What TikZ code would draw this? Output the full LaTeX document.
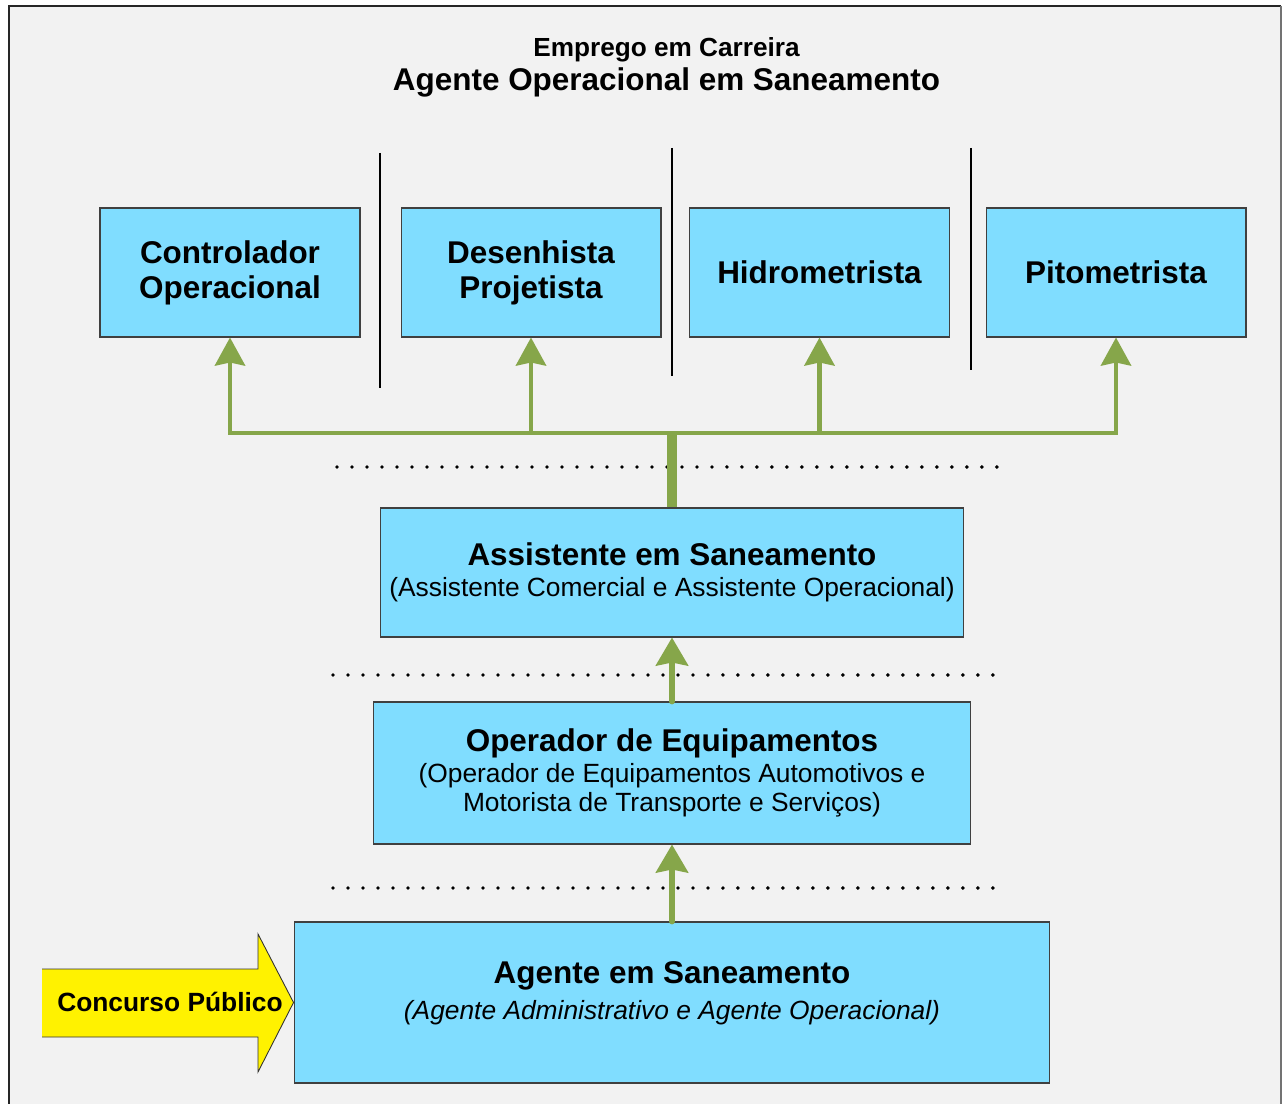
\documentclass[tikz,border=0pt]{standalone}
\usepackage{fontspec}
\setmainfont{Liberation Sans}
\usetikzlibrary{arrows.meta}
\definecolor{caixa}{HTML}{80DDFF}
\definecolor{seta}{HTML}{86A64A}
\definecolor{fundo}{HTML}{F2F2F2}

\begin{document}
\begin{tikzpicture}[
      x=0.02cm,
      y=-0.02cm,
      cargo/.style={
        draw=black!75,
        fill=caixa,
        line width=0.6pt,
        align=center,
        inner sep=0pt,
        font=\fontsize{15}{16.5}\selectfont
      },
      topo/.style={
        cargo,
        minimum width=5.2cm,
        minimum height=2.58cm,
        font=\fontsize{17.9}{20}\selectfont\bfseries
      },
      ramo/.style={
        seta,
        line width=2.7pt,
        -{Stealth[length=0.56cm,width=0.6cm,inset=0.06cm]}
      },
      tronco/.style={
        seta,
        line width=5.3pt
      },
      subida/.style={
        seta,
        line width=3.3pt,
        line cap=round,
        -{Stealth[length=0.56cm,width=0.64cm,inset=0.06cm]}
      },
      pontos/.style={
        line width=2.2pt,
        line cap=round,
        dash pattern=on 0pt off 0.3cm
      },
      divisa/.style={
        line width=0.8pt
      }
    ]
      \useasboundingbox (0,0) rectangle (1282,1104);
      \fill[fundo] (9,6) rectangle (1282,1104);
      \draw[line width=1.2pt, black!85] (9,1104) -- (9,6) -- (1281,6);
      \draw[line width=1pt, black!55] (1281,6) -- (1281,1104);

      \node (emprego) at (666.5,56.5) [anchor=base,font=\fontsize{14.9}{16}\selectfont\bfseries]{Emprego em Carreira};
      \node (agop) at (666.5,91) [anchor=base,font=\fontsize{17.9}{20}\selectfont\bfseries]{Agente Operacional em Saneamento};

      \node (contr) at (230,272.5) [topo]{Controlador\\Operacional};
      \node (desen) at (531,272.5) [topo]{Desenhista\\Projetista};
      \node (hidro) at (819.5,272.5) [topo]{Hidrometrista};
      \node (pito) at (1116,272.5) [topo]{Pitometrista};

      \draw[divisa] (380,153) -- (380,388);
      \draw[divisa] (672,148) -- (672,376);
      \draw[divisa] (971,148) -- (971,370);

      \node (assist) at (672,572.5) [cargo,minimum width=11.68cm,minimum height=2.58cm]{{\fontsize{17.9}{20}\selectfont\bfseries Assistente em Saneamento}\\[1pt](Assistente Comercial e Assistente Operacional)};
      \node (oper) at (672,773) [cargo,minimum width=11.96cm,minimum height=2.84cm]{{\fontsize{17.9}{20}\selectfont\bfseries Operador de Equipamentos}\\[1.5pt](Operador de Equipamentos Automotivos e\\Motorista de Transporte e Serviços)};
      \node (agente) at (672,1002.5) [cargo,minimum width=15.12cm,minimum height=3.22cm,
        label={[align=center,yshift=0.18cm,font=\fontsize{15}{16.5}\selectfont]center:{{\fontsize{17.9}{20}\selectfont\bfseries Agente em Saneamento}\\[4pt]\itshape(Agente Administrativo e Agente Operacional)}}]{};

      \draw[pontos] (337,467) -- (1003,467);
      \draw[pontos] (333,675) -- (1003,675);
      \draw[pontos] (333,888) -- (1003,888);

      \coordinate (junc) at (672,433);
      \draw[tronco] (assist.north) -- (junc);
      \draw[ramo] (junc) -| (contr.south);
      \draw[ramo] (junc) -| (desen.south);
      \draw[ramo] (junc) -| (hidro.south);
      \draw[ramo] (junc) -| (pito.south);
      \draw[subida] (oper.north) -- (assist.south);
      \draw[subida] (agente.north) -- (oper.south);

      \fill[yellow] (42,969) -- (258,969) -- (258,934) -- (agente.west) -- (258,1072) -- (258,1037) -- (42,1037) -- cycle;
      \draw[line width=0.5pt, black!80] (42,969) -- (258,969) -- (258,934) -- (agente.west) -- (258,1072) -- (258,1037) -- (42,1037);
      \node (concurso) at (170,1002) [font=\fontsize{15}{16}\selectfont\bfseries]{Concurso Público};

    \end{tikzpicture}
\end{document}
